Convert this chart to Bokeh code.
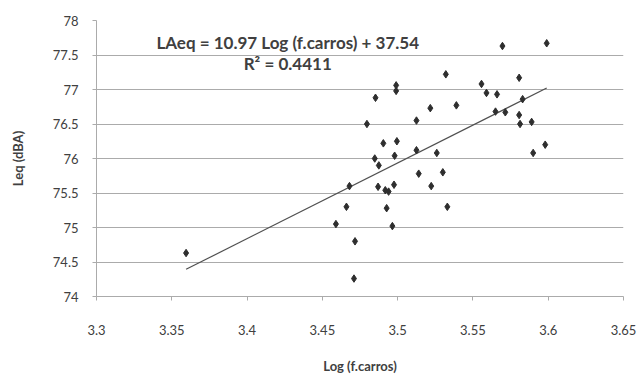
from bokeh.plotting import figure
from bokeh.models import FixedTicker, CustomJSTickFormatter, Label, Range1d
from bokeh.embed import file_html
from bokeh.resources import INLINE

# Data
log_carros = [3.3595, 3.459, 3.466, 3.468, 3.4717, 3.471, 3.4796, 3.4853, 3.4848,
              3.4875, 3.487, 3.4905, 3.4918, 3.4927, 3.494, 3.4965, 3.4976, 3.498,
              3.4995, 3.499, 3.499, 3.5125, 3.5125, 3.514, 3.5217, 3.5223, 3.526,
              3.530, 3.532, 3.533, 3.539, 3.5557, 3.559, 3.566, 3.565, 3.5715,
              3.5696, 3.5807, 3.5807, 3.5813, 3.583, 3.589, 3.590, 3.598, 3.599]
leq_dba = [74.63, 75.05, 75.30, 75.60, 74.80, 74.26, 76.50, 76.88, 76.00,
           75.90, 75.59, 76.22, 75.54, 75.28, 75.52, 75.02, 75.62, 76.04,
           76.25, 77.06, 76.98, 76.55, 76.12, 75.78, 76.73, 75.60, 76.08,
           75.80, 77.22, 75.30, 76.77, 77.08, 76.95, 76.93, 76.68, 76.67,
           77.63, 77.17, 76.63, 76.50, 76.86, 76.53, 76.08, 76.20, 77.67]

trend_slope = 10.97
trend_intercept = 37.54
r_squared = 0.4411

x_ticks = [3.3, 3.35, 3.4, 3.45, 3.5, 3.55, 3.6, 3.65]
y_ticks = [74, 74.5, 75, 75.5, 76, 76.5, 77, 77.5, 78]

x_title = "Log (f.carros)"
y_title = "Leq (dBA)"

TEXT = "#404040"
GRID = "#ababab"
FONT = "Lato"

p = figure(width=643, height=376, output_backend="svg", toolbar_location=None,
           x_range=Range1d(3.3, 3.65), y_range=Range1d(74, 78),
           min_border_left=96, min_border_right=20, min_border_top=20,
           min_border_bottom=76)
p.outline_line_color = None
p.background_fill_color = "white"
p.border_fill_color = "white"

fmt = CustomJSTickFormatter(code="return String(Math.round(tick*100)/100);")

p.xaxis.ticker = FixedTicker(ticks=x_ticks)
p.yaxis.ticker = FixedTicker(ticks=y_ticks)
p.xaxis.formatter = fmt
p.yaxis.formatter = fmt

for ax in (p.xaxis, p.yaxis):
    ax.axis_line_color = GRID
    ax.major_tick_line_color = GRID
    ax.minor_tick_line_color = None
    ax.major_tick_in = 0
    ax.major_tick_out = 4
    ax.major_label_text_font = FONT
    ax.major_label_text_font_size = "13px"
    ax.major_label_text_color = TEXT
    ax.axis_label_text_font = FONT
    ax.axis_label_text_font_size = "13px"
    ax.axis_label_text_font_style = "bold"
    ax.axis_label_text_color = TEXT

p.xaxis.major_label_standoff = 24
p.xaxis.axis_label_standoff = 20
p.yaxis.major_label_standoff = 14
p.yaxis.axis_label_standoff = 24
p.xaxis.axis_label = x_title
p.yaxis.axis_label = y_title

p.xgrid.grid_line_color = None
p.ygrid.grid_line_color = GRID
p.ygrid.grid_line_width = 1

# trendline across the data's range
x0, x1 = min(log_carros), max(log_carros)
p.line([x0, x1], [trend_slope * x0 + trend_intercept, trend_slope * x1 + trend_intercept],
       line_color="#505050", line_width=1.2)

p.scatter(log_carros, leq_dba, marker="diamond", size=7.5,
          fill_color="#2e2e2e", line_color="#2e2e2e")

eq = Label(x=3.427, y=77.68,
           text=f"LAeq = {trend_slope} Log (f.carros) + {trend_intercept}",
           text_align="center", text_baseline="middle", text_font=FONT,
           text_font_size="17px", text_font_style="bold", text_color=TEXT)
r2 = Label(x=3.427, y=77.37, text=f"R² = {r_squared}",
           text_align="center", text_baseline="middle", text_font=FONT,
           text_font_size="17px", text_font_style="bold", text_color=TEXT)
p.add_layout(eq)
p.add_layout(r2)

open("out.html", "w").write(file_html(p, INLINE))
